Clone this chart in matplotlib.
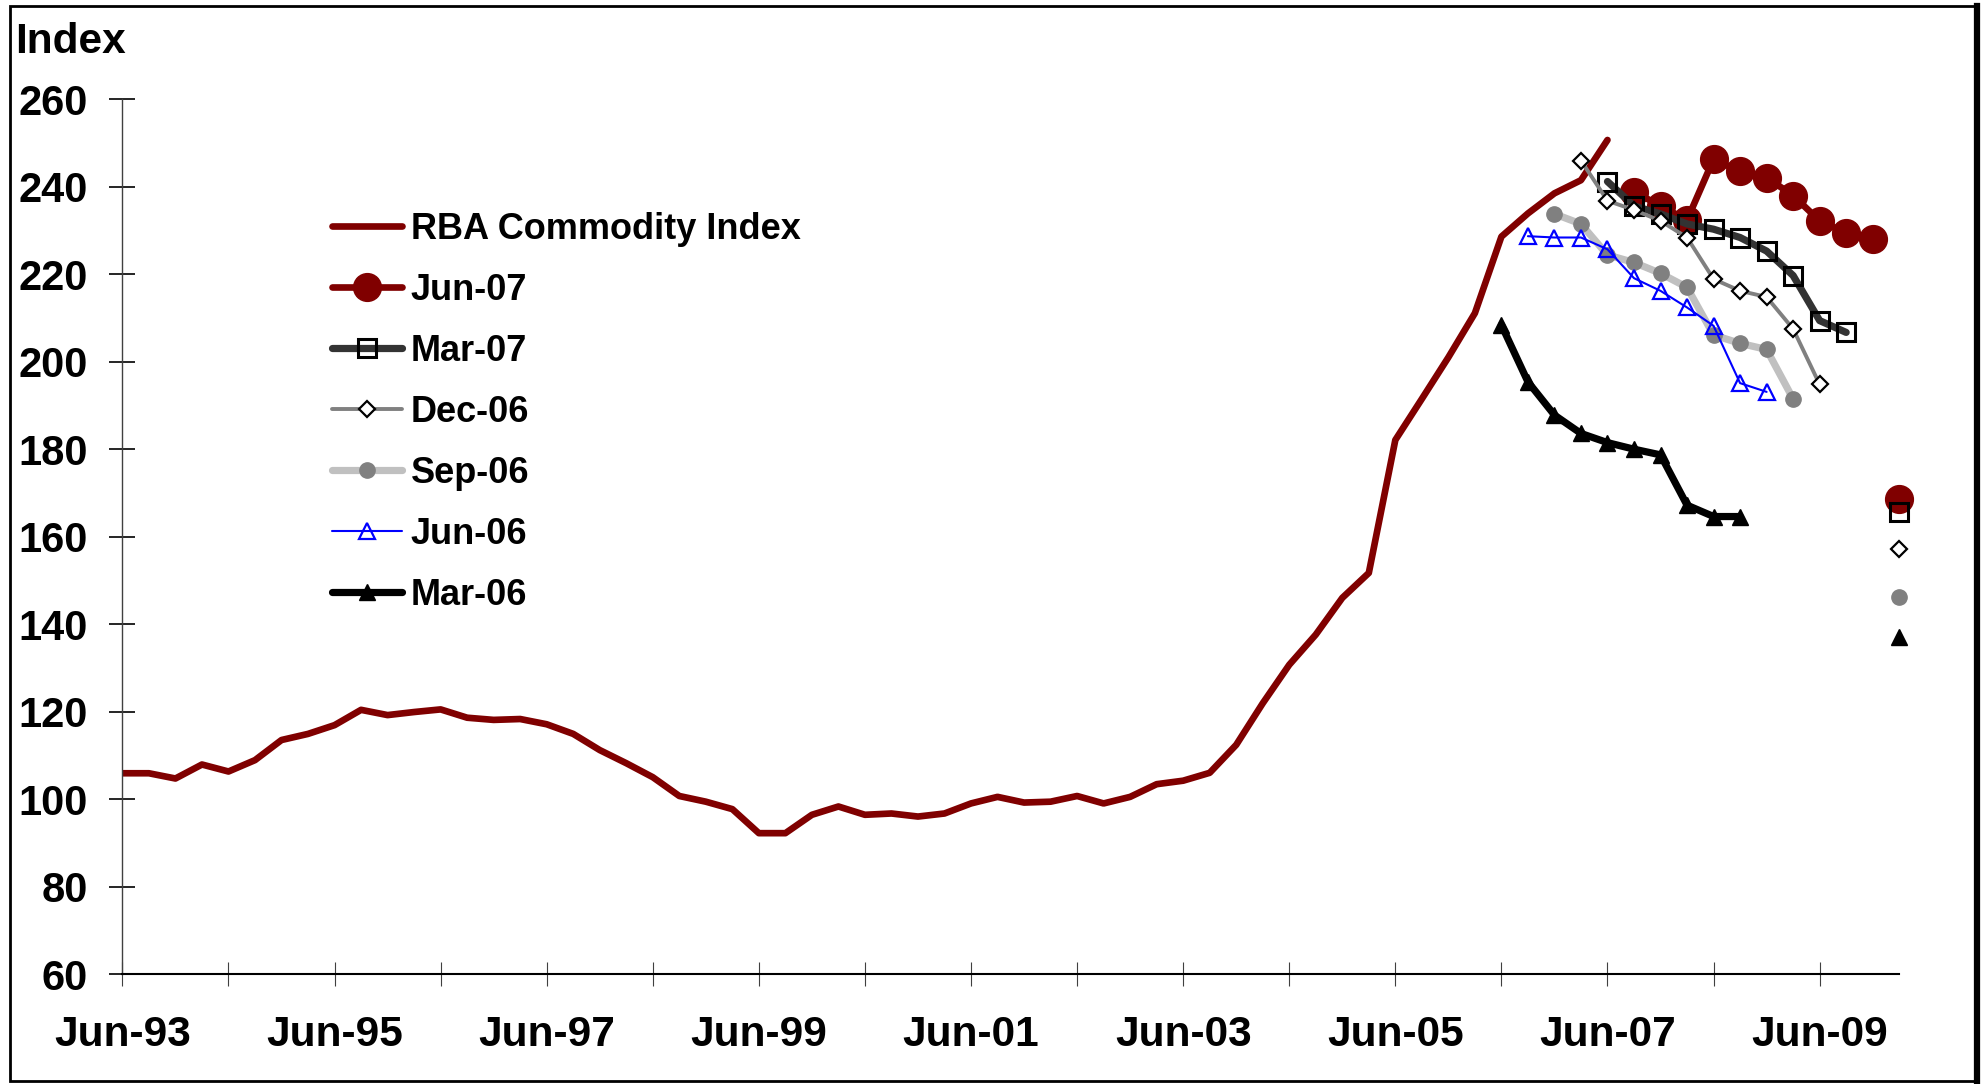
import matplotlib
matplotlib.use("Agg")
import matplotlib.pyplot as plt
from matplotlib.patches import Rectangle
from matplotlib.lines import Line2D

plt.rcParams['font.family'] = ['Liberation Sans', 'DejaVu Sans']
plt.rcParams['font.weight'] = 'bold'

# quarterly RBA commodity index, Jun-93 (quarter 0) to Jun-07 (quarter 56)
index_vals = [105.9, 105.9, 104.7, 107.9, 106.3, 108.9, 113.5, 114.9,
              116.9, 120.4, 119.2, 119.9, 120.5, 118.6, 118.1, 118.3,
              117.1, 114.9, 111.2, 108.2, 105.0, 100.7, 99.4, 97.7,
              92.2, 92.2, 96.4, 98.3, 96.4, 96.7, 96.0, 96.7,
              99.0, 100.5, 99.2, 99.4, 100.7, 99.0, 100.5, 103.4,
              104.2, 106.0, 112.4, 121.9, 130.7, 137.6, 146.0, 151.7,
              182.1, 191.5, 201.0, 211.1, 228.6, 233.9, 238.5, 241.5,
              250.7]

# forecast vintages: first quarter and values
jun07_start = 57
jun07_vals = [238.9, 235.6, 232.4, 246.3, 243.5, 242.1, 238.0, 232.2, 229.4, 228.0]
mar07_start = 56
mar07_vals = [241.2, 235.6, 233.8, 231.5, 230.3, 228.4, 225.3, 219.7, 209.4, 206.7]
dec06_start = 55
dec06_vals = [246.0, 236.8, 234.7, 232.2, 228.4, 218.9, 216.2, 214.8, 207.5, 194.8]
sep06_start = 54
sep06_vals = [233.8, 231.5, 224.4, 222.7, 220.2, 217.0, 206.1, 204.2, 202.8, 191.5]
jun06_start = 53
jun06_vals = [228.7, 228.4, 228.4, 225.7, 219.1, 216.2, 212.4, 208.2, 195.1, 193.1]
mar06_start = 52
mar06_vals = [208.4, 195.4, 187.8, 183.6, 181.5, 180.0, 178.7, 167.2, 164.6, 164.6]

# long-run levels shown at the far right
longrun_q = 67
longrun_jun07 = 168.5
longrun_mar07 = 165.7
longrun_dec06 = 157.2
longrun_sep06 = 146.3
longrun_mar06 = 137.1

tick_labels = ['Jun-93', '', 'Jun-95', '', 'Jun-97', '', 'Jun-99', '', 'Jun-01', '',
               'Jun-03', '', 'Jun-05', '', 'Jun-07', '', 'Jun-09']

W, H = 1984, 1084
fig = plt.figure(figsize=(W / 100, H / 100), dpi=100)
ax = fig.add_axes([122.4 / W, 1 - 974 / H, (1899.2 - 122.4) / W, (974 - 99.3) / H])


def qrange(start, vals):
    return list(range(start, start + len(vals)))


ax.plot(range(len(index_vals)), index_vals, color='#800000', lw=4.8,
        solid_joinstyle='round', solid_capstyle='round', label='RBA Commodity Index')

styles = [
    ('Jun-07', jun07_start, jun07_vals, longrun_jun07,
     dict(color='#800000', lw=4.8, marker='o', ms=20, mfc='#800000', mec='#800000')),
    ('Mar-07', mar07_start, mar07_vals, longrun_mar07,
     dict(color='#333333', lw=5.2, marker='s', ms=13, mfc='none', mec='black', mew=2.2)),
    ('Dec-06', dec06_start, dec06_vals, longrun_dec06,
     dict(color='#808080', lw=2.8, marker='D', ms=8.5, mfc='white', mec='black', mew=1.6)),
    ('Sep-06', sep06_start, sep06_vals, longrun_sep06,
     dict(color='#C0C0C0', lw=5.2, marker='o', ms=11, mfc='#808080', mec='#808080')),
    ('Jun-06', jun06_start, jun06_vals, None,
     dict(color='#0000FF', lw=1.5, marker='^', ms=11, mfc='none', mec='#0000FF', mew=1.6)),
    ('Mar-06', mar06_start, mar06_vals, longrun_mar06,
     dict(color='black', lw=5.2, marker='^', ms=11, mfc='black', mec='black')),
]

for name, start, vals, lr, st in styles:
    ax.plot(qrange(start, vals), vals, label=name, solid_joinstyle='round',
            solid_capstyle='round', **st)
    if lr is not None:
        pst = dict(st)
        pst['ls'] = 'none'
        ax.plot([longrun_q], [lr], clip_on=False, zorder=5, **pst)

ax.set_xlim(0, 67)
ax.set_ylim(60, 260)
ax.set_xticks(range(0, 65, 4))
ax.set_xticklabels(tick_labels)
ax.set_yticks(range(60, 261, 20))
for s in ['top', 'right']:
    ax.spines[s].set_visible(False)
ax.spines['left'].set_color('#404040')
ax.spines['left'].set_linewidth(1.0)
ax.spines['bottom'].set_linewidth(1.5)
ax.tick_params(axis='y', direction='inout', length=19, width=1.2, pad=15.5, labelsize=30)
ax.tick_params(axis='x', direction='inout', length=17.5, width=0.8, color='#404040',
               pad=21, labelsize=30.5)

fig.text(15 / W, 1 - 53 / H, 'Index', fontsize=30.5, fontweight='bold', va='baseline')

ax.legend(loc='upper left', bbox_to_anchor=(331.5 / W, 1 - 212 / H),
          bbox_transform=fig.transFigure, frameon=False, fontsize=26,
          handlelength=1.95, handletextpad=0.25, labelspacing=0.72, borderpad=0,
          borderaxespad=0, numpoints=1)

# outer frame
fig.patches.append(Rectangle((10 / W, 3 / H), 1966 / W, 1075 / H, transform=fig.transFigure,
                             fill=False, lw=2, ec='black'))
fig.lines.append(Line2D([1977 / W, 1977 / W], [3 / H, 1078 / H], transform=fig.transFigure,
                        lw=4.5, color='black'))

fig.savefig('out.png', dpi=100)
